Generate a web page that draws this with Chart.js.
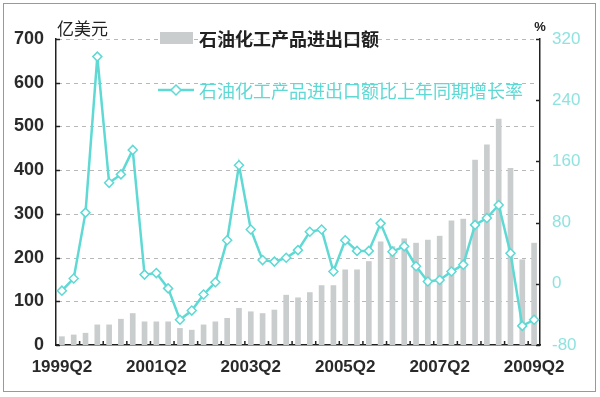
<!DOCTYPE html>
<html>
<head>
<meta charset="utf-8">
<script src="https://cdn.jsdelivr.net/npm/chart.js@4/dist/chart.umd.min.js"></script>
<style>
  body { margin: 0; background: #fff; }
  #wrap { position: relative; width: 600px; height: 397px; }
  #frame { position: absolute; left: 3px; top: 3px; width: 591px; height: 387px; border: 1px solid #999; pointer-events: none; }
</style>
</head>
<body>
<div id="wrap">
  <canvas id="chart" width="600" height="397"></canvas>
  <div id="frame"></div>
</div>
<script>
// quarters 1999Q2 .. 2009Q2
var quarters = [];
for (var y = 1999; y <= 2009; y++) {
    for (var q = 1; q <= 4; q++) {
        if ((y == 1999 && q < 2) || (y == 2009 && q > 2)) continue;
        quarters.push(y + 'Q' + q);
    }
}

// 石油化工产品进出口额 (亿美元)
var tradeValue = [19, 23, 27, 46, 46, 59, 72, 53, 53, 53,
                  38, 34, 46, 53, 61, 84, 76, 72, 80, 114,
                  108, 120, 136, 136, 172, 172, 191, 236, 225, 243,
                  233, 240, 249, 284, 288, 423, 458, 517, 404, 195,
                  233];

// 比上年同期增长率 (%)
var growthRate = [-9, 7, 93, 297, 132, 143, 175, 12, 14, -6,
                  -47, -35, -14, 2, 57, 155, 71, 31, 29, 34,
                  44, 68, 71, 16, 57, 43, 43, 79, 42, 49,
                  23, 3, 5, 16, 25, 77, 86, 103, 40, -55,
                  -47];

var leftTicks = [0, 100, 200, 300, 400, 500, 600, 700];
var rightTicks = [-80, 0, 80, 160, 240, 320];

var barName = '石油化工产品进出口额';
var lineName = '石油化工产品进出口额比上年同期增长率';

var cyan = '#5fd9d4';
var gray = '#c9cdcd';
var cjk = '"Noto Sans CJK SC", sans-serif';
var num = '"Liberation Sans", Arial, sans-serif';

// dashed grid behind the data
var dashGrid = {
    id: 'dashGrid',
    beforeDatasetsDraw: function (chart) {
        var c = chart.ctx;
        var area = chart.chartArea;
        var yl = chart.scales.y;
        c.save();
        c.strokeStyle = '#b8b8b8';
        c.lineWidth = 1;
        c.setLineDash([4, 4]);
        leftTicks.forEach(function (v) {
            if (v == 0) return;
            var p = Math.round(yl.getPixelForValue(v)) + 0.5;
            c.beginPath(); c.moveTo(area.left + 2, p); c.lineTo(area.right - 2, p); c.stroke();
        });
        c.restore();
    }
};

// legend, unit labels and inward tick marks
var decor = {
    id: 'decor',
    afterDraw: function (chart) {
        var c = chart.ctx;
        var area = chart.chartArea;
        var yl = chart.scales.y, yr = chart.scales.y1, xs = chart.scales.x;
        c.save();
        // inward ticks
        c.strokeStyle = '#222';
        c.lineWidth = 1.5;
        leftTicks.forEach(function (v) {
            var p = Math.round(yl.getPixelForValue(v)) + 0.5;
            c.beginPath(); c.moveTo(area.left, p); c.lineTo(area.left + 4, p); c.stroke();
        });
        rightTicks.forEach(function (v) {
            var p = Math.round(yr.getPixelForValue(v)) + 0.5;
            c.beginPath(); c.moveTo(area.right, p); c.lineTo(area.right - 4, p); c.stroke();
        });
        for (var i = 1; i < quarters.length; i += 2) {
            var px = (xs.getPixelForValue(i) + xs.getPixelForValue(i + 1)) / 2;
            c.beginPath(); c.moveTo(px, area.bottom); c.lineTo(px, area.bottom - 4); c.stroke();
        }
        // units
        c.fillStyle = '#222';
        c.font = '17px ' + cjk;
        c.textBaseline = 'middle';
        c.textAlign = 'left';
        c.fillText('亿美元', 57, 29);
        c.font = 'bold 13px ' + num;
        c.textAlign = 'center';
        c.fillText('%', 540, 27);
        // legend
        c.textAlign = 'left';
        c.fillStyle = gray;
        c.fillRect(160, 32, 33, 12);
        c.fillStyle = '#222';
        c.font = 'bold 18px ' + cjk;
        c.fillText(barName, 199, 39);
        c.strokeStyle = cyan;
        c.lineWidth = 2.5;
        c.beginPath(); c.moveTo(158, 90); c.lineTo(194, 90); c.stroke();
        c.fillStyle = '#fff';
        c.lineWidth = 1.5;
        c.beginPath();
        c.moveTo(176, 85); c.lineTo(181, 90); c.lineTo(176, 95); c.lineTo(171, 90); c.closePath();
        c.fill(); c.stroke();
        c.fillStyle = cyan;
        c.font = '18px ' + cjk;
        c.fillText(lineName, 199, 91);
        c.restore();
    }
};

var ctx = document.getElementById('chart').getContext('2d');
var chart = new Chart(ctx, {
    type: 'bar',
    data: {
        labels: quarters,
        datasets: [{
            type: 'line',
            label: lineName,
            data: growthRate,
            yAxisID: 'y1',
            borderColor: cyan,
            borderWidth: 2.5,
            pointStyle: 'rectRot',
            pointRadius: 4.5,
            pointBackgroundColor: '#fff',
            pointBorderColor: cyan,
            pointBorderWidth: 1.5,
            tension: 0,
            order: 0
        }, {
            label: barName,
            data: tradeValue,
            yAxisID: 'y',
            backgroundColor: gray,
            barThickness: 5,
            order: 1
        }]
    },
    options: {
        responsive: false,
        animation: false,
        layout: { padding: { top: 39, left: 0, right: 0, bottom: 0 } },
        plugins: { legend: { display: false }, tooltip: { enabled: false } },
        scales: {
            x: {
                offset: true,
                grid: { display: false, drawTicks: false },
                border: { color: '#222', width: 1.5 },
                ticks: {
                    autoSkip: false,
                    maxRotation: 0,
                    padding: 12,
                    color: '#2a2a2a',
                    font: { family: num, size: 17, weight: 'bold' },
                    callback: function (v, i) { return i % 8 == 0 ? quarters[i] : ''; }
                },
                afterFit: function (s) { s.height = 52; }
            },
            y: {
                position: 'left',
                min: 0, max: 700,
                afterBuildTicks: function (s) { s.ticks = leftTicks.map(function (v) { return { value: v }; }); },
                grid: { display: false, drawTicks: false },
                border: { color: '#222', width: 1.5 },
                ticks: { padding: 12, color: '#2a2a2a', font: { family: num, size: 18, weight: 'bold' } },
                afterFit: function (s) { s.width = 56; }
            },
            y1: {
                position: 'right',
                min: -80, max: 320,
                afterBuildTicks: function (s) { s.ticks = rightTicks.map(function (v) { return { value: v }; }); },
                grid: { display: false, drawTicks: false },
                border: { color: '#222', width: 1.5 },
                ticks: { padding: 12, color: '#8fe3df', font: { family: num, size: 17 } },
                afterFit: function (s) { s.width = 60; }
            }
        }
    },
    plugins: [dashGrid, decor]
});
</script>
</body>
</html>
